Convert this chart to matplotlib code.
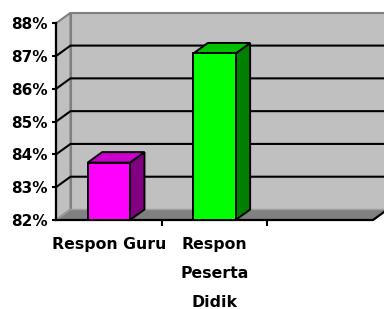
import matplotlib
matplotlib.use("Agg")
import matplotlib.pyplot as plt
from matplotlib.patches import Polygon

# data
categories = ["Respon Guru", "Respon\nPeserta\nDidik"]
values = [83.75, 87.08]
front_colors = ["#FF00FF", "#00FF00"]
top_colors = ["#CC00CC", "#00C000"]
side_colors = ["#800080", "#008000"]
yticks = [82, 83, 84, 85, 86, 87, 88]

fig = plt.figure(figsize=(3.84, 3.09), dpi=100)
ax = fig.add_axes([56 / 384, 1 - 220 / 309, 317 / 384, 196.7 / 309])
ax.set_xlim(-0.5, 2.5)
ax.set_ylim(82, 88)
ax.patch.set_visible(False)
for s in ax.spines.values():
    s.set_visible(False)

# depth offset of the 3d look, in pixels -> data units
DX_PX, DY_PX = 14.5, 10.5
px_x = 317 / 3.0
px_y = 196.7 / 6.0
dx = DX_PX / px_x
dy = DY_PX / px_y

x0, x1 = -0.5, 2.5
y0, y1 = 82, 88

# back wall + side wall
ax.add_patch(Polygon([(x0 + dx, y0 + dy), (x1 + dx, y0 + dy), (x1 + dx, y1 + dy), (x0 + dx, y1 + dy)],
                     closed=True, facecolor="#C0C0C0", edgecolor="#808080", lw=1.5, clip_on=False, zorder=1))
ax.add_patch(Polygon([(x0, y0), (x0 + dx, y0 + dy), (x0 + dx, y1 + dy), (x0, y1)],
                     closed=True, facecolor="#C0C0C0", edgecolor="#808080", lw=1.5, clip_on=False, zorder=1))

# gridlines on side and back walls
for v in yticks[1:-1]:
    ax.plot([x0, x0 + dx, x1 + dx], [v, v + dy, v + dy], color="black", lw=1.5,
            clip_on=False, zorder=2, solid_capstyle="butt")

# floor
ax.add_patch(Polygon([(x0, y0), (x1, y0), (x1 + dx, y0 + dy), (x0 + dx, y0 + dy)],
                     closed=True, facecolor="#808080", edgecolor="#A0A0A0", lw=1, clip_on=False, zorder=3))
ax.plot([x0, x1, x1 + dx], [y0, y0, y0 + dy], color="black", lw=1.6, clip_on=False, zorder=4)
ax.plot([x0, x0], [y0, y1], color="black", lw=1.6, clip_on=False, zorder=4)

# bars
w = 0.4
ax.bar(range(len(values)), [v - y0 for v in values], bottom=y0, width=w,
       color=front_colors, edgecolor="black", lw=1.4, zorder=6, clip_on=False)
for i, v in enumerate(values):
    xl, xr = i - w / 2, i + w / 2
    ax.add_patch(Polygon([(xr, y0), (xr + dx, y0 + dy), (xr + dx, v + dy), (xr, v)],
                         closed=True, facecolor=side_colors[i], edgecolor="black", lw=1.4,
                         clip_on=False, zorder=5))
    ax.add_patch(Polygon([(xl, v), (xr, v), (xr + dx, v + dy), (xl + dx, v + dy)],
                         closed=True, facecolor=top_colors[i], edgecolor="black", lw=1.4,
                         clip_on=False, zorder=5))

# ticks
ax.set_yticks(yticks)
ax.set_yticklabels([f"{v}%" for v in yticks], fontweight="bold", fontsize=11)
ax.tick_params(axis="y", length=3, width=1.5, pad=3)
ax.set_xticks([0, 1])
ax.set_xticklabels(categories, fontweight="bold", fontsize=11.3, linespacing=2.2)
ax.set_xticks([0.5, 1.5], minor=True)
ax.tick_params(axis="x", which="major", length=0, pad=12)
ax.tick_params(axis="x", which="minor", length=4, width=1.5)

fig.savefig("out.png", dpi=100)
